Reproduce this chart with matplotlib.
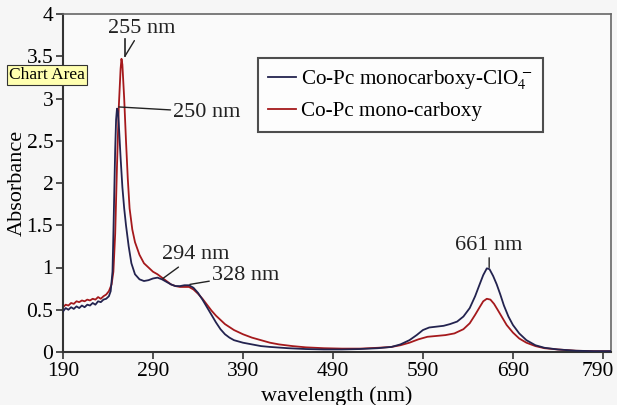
import matplotlib
matplotlib.use("Agg")
import matplotlib.pyplot as plt
from matplotlib.transforms import ScaledTranslation

# ---- data ----
wl_blue = [190,193,196,199,202,205,208,211,214,217,220,223,226,229,232,235,238,241,243,245,246,247,248,249,250,251,252,254,256,258,260,263,266,270,275,280,285,290,295,300,305,310,315,320,325,330,335,340,345,350,355,360,365,370,375,380,390,400,410,420,440,460,480,500,520,540,555,565,575,583,590,597,605,613,620,628,635,642,648,653,657,661,664,668,672,676,680,685,690,697,705,715,725,740,760,780,800]
abs_blue = [0.48,0.52,0.50,0.53,0.51,0.54,0.52,0.55,0.53,0.56,0.55,0.58,0.56,0.60,0.59,0.62,0.63,0.66,0.72,0.95,1.4,1.9,2.4,2.75,2.88,2.85,2.7,2.3,1.95,1.7,1.5,1.25,1.05,0.92,0.86,0.84,0.85,0.87,0.88,0.86,0.83,0.80,0.78,0.78,0.79,0.79,0.76,0.70,0.62,0.53,0.44,0.35,0.27,0.21,0.17,0.14,0.11,0.09,0.07,0.06,0.045,0.035,0.03,0.03,0.035,0.045,0.06,0.09,0.14,0.2,0.26,0.29,0.30,0.31,0.33,0.36,0.42,0.52,0.66,0.8,0.91,0.99,0.98,0.9,0.8,0.68,0.55,0.42,0.32,0.22,0.14,0.08,0.05,0.03,0.015,0.01,0.01]

wl_red = [190,193,196,199,202,205,208,211,214,217,220,223,226,229,232,235,238,241,244,246,248,250,252,254,255,256,258,260,262,264,267,270,275,280,285,290,295,300,305,310,315,320,325,330,335,340,345,350,355,360,365,370,380,390,400,410,420,430,445,460,480,500,520,540,555,565,575,585,595,605,615,625,635,642,648,653,657,661,665,669,673,678,683,690,697,705,715,725,740,760,780,800]
abs_red = [0.53,0.56,0.55,0.58,0.57,0.60,0.59,0.61,0.60,0.62,0.61,0.63,0.62,0.65,0.63,0.66,0.68,0.72,0.8,0.95,1.4,2.2,2.9,3.35,3.47,3.4,3.0,2.5,2.05,1.7,1.45,1.3,1.15,1.05,1.0,0.95,0.92,0.88,0.84,0.80,0.78,0.77,0.77,0.77,0.74,0.69,0.63,0.56,0.49,0.43,0.38,0.33,0.26,0.21,0.17,0.14,0.11,0.09,0.07,0.055,0.045,0.04,0.04,0.05,0.06,0.08,0.11,0.15,0.18,0.19,0.2,0.22,0.27,0.34,0.44,0.53,0.6,0.63,0.62,0.57,0.5,0.41,0.32,0.23,0.16,0.11,0.07,0.045,0.03,0.015,0.01,0.01]

label_blue = r'Co-Pc monocarboxy-ClO$_4^{\,-}$'
label_red = 'Co-Pc mono-carboxy'
x_ticks = [190, 290, 390, 490, 590, 690, 790]
y_ticks = [0, 0.5, 1, 1.5, 2, 2.5, 3, 3.5, 4]
y_tick_labels = ['0', '0.5', '1', '1.5', '2', '2.5', '3', '3.5', '4']

plt.rcParams['font.family'] = ['Liberation Serif', 'DejaVu Serif']
plt.rcParams['mathtext.fontset'] = 'stix'

fig = plt.figure(figsize=(6.17, 4.05), dpi=100, facecolor='#f6f6f6')
ax = fig.add_axes([63/617, 1 - 352/405, 548/617, 338/405], facecolor='#fafafa')

navy = '#23234f'
red = '#a5191c'
ax.plot(wl_blue, abs_blue, color=navy, lw=1.3, label=label_blue, zorder=3)
ax.plot(wl_red, abs_red, color=red, lw=1.3, label=label_red, zorder=2)

ax.set_xlim(190, 799)
ax.set_ylim(0, 4)
ax.set_xticks(x_ticks)
ax.set_yticks(y_ticks)
ax.set_yticklabels(y_tick_labels)
ax.tick_params(labelsize=15.5, direction='out', length=5, width=1.2, color='#333333', pad=2)
for s in ['left', 'bottom']:
    ax.spines[s].set_linewidth(1.5)
    ax.spines[s].set_color('#333333')
for s in ['top', 'right']:
    ax.spines[s].set_linewidth(1.2)
    ax.spines[s].set_color('#666666')

# nudge the last x tick label so it stays inside the canvas
last = ax.get_xticklabels()[-1]
last.set_transform(last.get_transform() + ScaledTranslation(-5/100, 0, fig.dpi_scale_trans))

ax.set_xlabel('wavelength (nm)', fontsize=16)
ax.set_ylabel('Absorbance', fontsize=16)
ax.xaxis.set_label_coords(0.5, -0.10)
ax.yaxis.set_label_coords(-0.066, 0.5)

leg = ax.legend(loc='upper left', bbox_to_anchor=(0.355, 0.87), fontsize=15.2,
                frameon=True, fancybox=False, handlelength=1.3, handletextpad=0.25,
                borderpad=0.5, labelspacing=0.45, borderaxespad=0)
leg.get_frame().set_edgecolor('#222222')
leg.get_frame().set_linewidth(1.5)
leg.get_frame().set_facecolor('#ffffff')

kw = dict(fontsize=16, ha='center', va='center', color='#222222',
          arrowprops=dict(arrowstyle='-', color='#222222', lw=1.0, shrinkA=0, shrinkB=0))
ax.annotate('255 nm', xy=(258.8, 3.50), xytext=(277.6, 3.83), **kw)
ax.plot([258.8, 258.8], [3.50, 3.70], color='#222222', lw=1.2, zorder=4)
ax.annotate('250 nm', xy=(252, 2.90), xytext=(350, 2.84), **kw)
ax.annotate('294 nm', xy=(301, 0.87), xytext=(337, 1.15), **kw)
ax.annotate('328 nm', xy=(331, 0.80), xytext=(393, 0.91), **kw)
ax.annotate('661 nm', xy=(663.6, 1.0), xytext=(663.6, 1.26), **kw)

fig.text(0.014, 0.814, 'Chart Area', fontsize=12.5, ha='left', va='center',
         bbox=dict(boxstyle='square,pad=0.12', fc='#ffffb0', ec='#333333', lw=0.8))

fig.savefig('out.png', dpi=100, facecolor=fig.get_facecolor())
